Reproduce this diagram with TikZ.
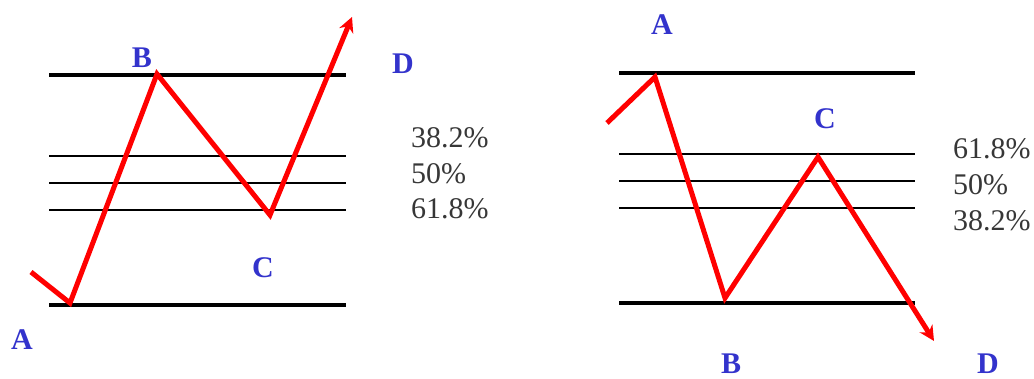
\documentclass[tikz,border=0pt]{standalone}
\usepackage{fontspec}
\setmainfont{Liberation Serif}
\usepackage{tikz}
\usetikzlibrary{arrows.meta,positioning}

\definecolor{waveRed}{RGB}{255,0,0}
\definecolor{ptBlue}{RGB}{51,51,204}
\definecolor{pctGray}{RGB}{55,55,55}

\tikzset{
  level/.style={line width=1.5pt, black},
  extreme/.style={line width=4pt, black},
  wave/.style={line width=5pt, waveRed},
  ptlabel/.style={font=\fontsize{30}{36}\selectfont\bfseries, text=ptBlue, inner sep=0pt, anchor=base},
  pct/.style={font=\fontsize{30}{36}\selectfont, text=pctGray, inner sep=0pt, anchor=base west},
}

\begin{document}
\begin{tikzpicture}[x=1pt, y=-1pt, >=Latex]
\useasboundingbox (0,0) rectangle (1034,378);
% left panel: bullish retracement
\draw[extreme] (49,75) -- (346,75);
\draw[extreme] (49,305) -- (346,305);
\foreach \y in {156,183,210} \draw[level] (49,\y) -- (346,\y);
\coordinate (l0) at (31,272);
\coordinate (lA) at (70,303);
\coordinate (lB) at (157,74);
\coordinate (lC) at (270,215);
\coordinate (lD) at (352,17);
\draw[wave, -{Stealth[length=15pt,width=15pt,inset=5pt]}] (l0) -- (lA) -- (lB) -- (lC) -- (lD);
\node[ptlabel] (lblA) at (22,349) {A};
\node[ptlabel] (lblB) at (142,67) {B};
\node[ptlabel] (lblC) at (263,277) {C};
\node[ptlabel] (lblD) at (403,73) {D};
\node[pct] (l382) at (411,147) {38.2\%};
\node[pct] (l50) at (411,183) {50\%};
\node[pct] (l618) at (411,218) {61.8\%};
% right panel: bearish retracement
\draw[extreme] (619,73) -- (915,73);
\draw[extreme] (619,303) -- (915,303);
\foreach \y in {154,181,208} \draw[level] (619,\y) -- (915,\y);
\coordinate (r0) at (607,123);
\coordinate (rA) at (655,77);
\coordinate (rB) at (725,298);
\coordinate (rC) at (818,157);
\coordinate (rD) at (934,341);
\draw[wave, -{Stealth[length=15pt,width=15pt,inset=5pt]}] (r0) -- (rA) -- (rB) -- (rC) -- (rD);
\node[ptlabel] (rblA) at (662,34) {A};
\node[ptlabel] (rblB) at (731,373) {B};
\node[ptlabel] (rblC) at (825,128) {C};
\node[ptlabel] (rblD) at (988,373) {D};
\node[pct] (r618) at (953,158) {61.8\%};
\node[pct] (r50) at (953,194) {50\%};
\node[pct] (r382) at (953,230) {38.2\%};
\end{tikzpicture}
\end{document}
